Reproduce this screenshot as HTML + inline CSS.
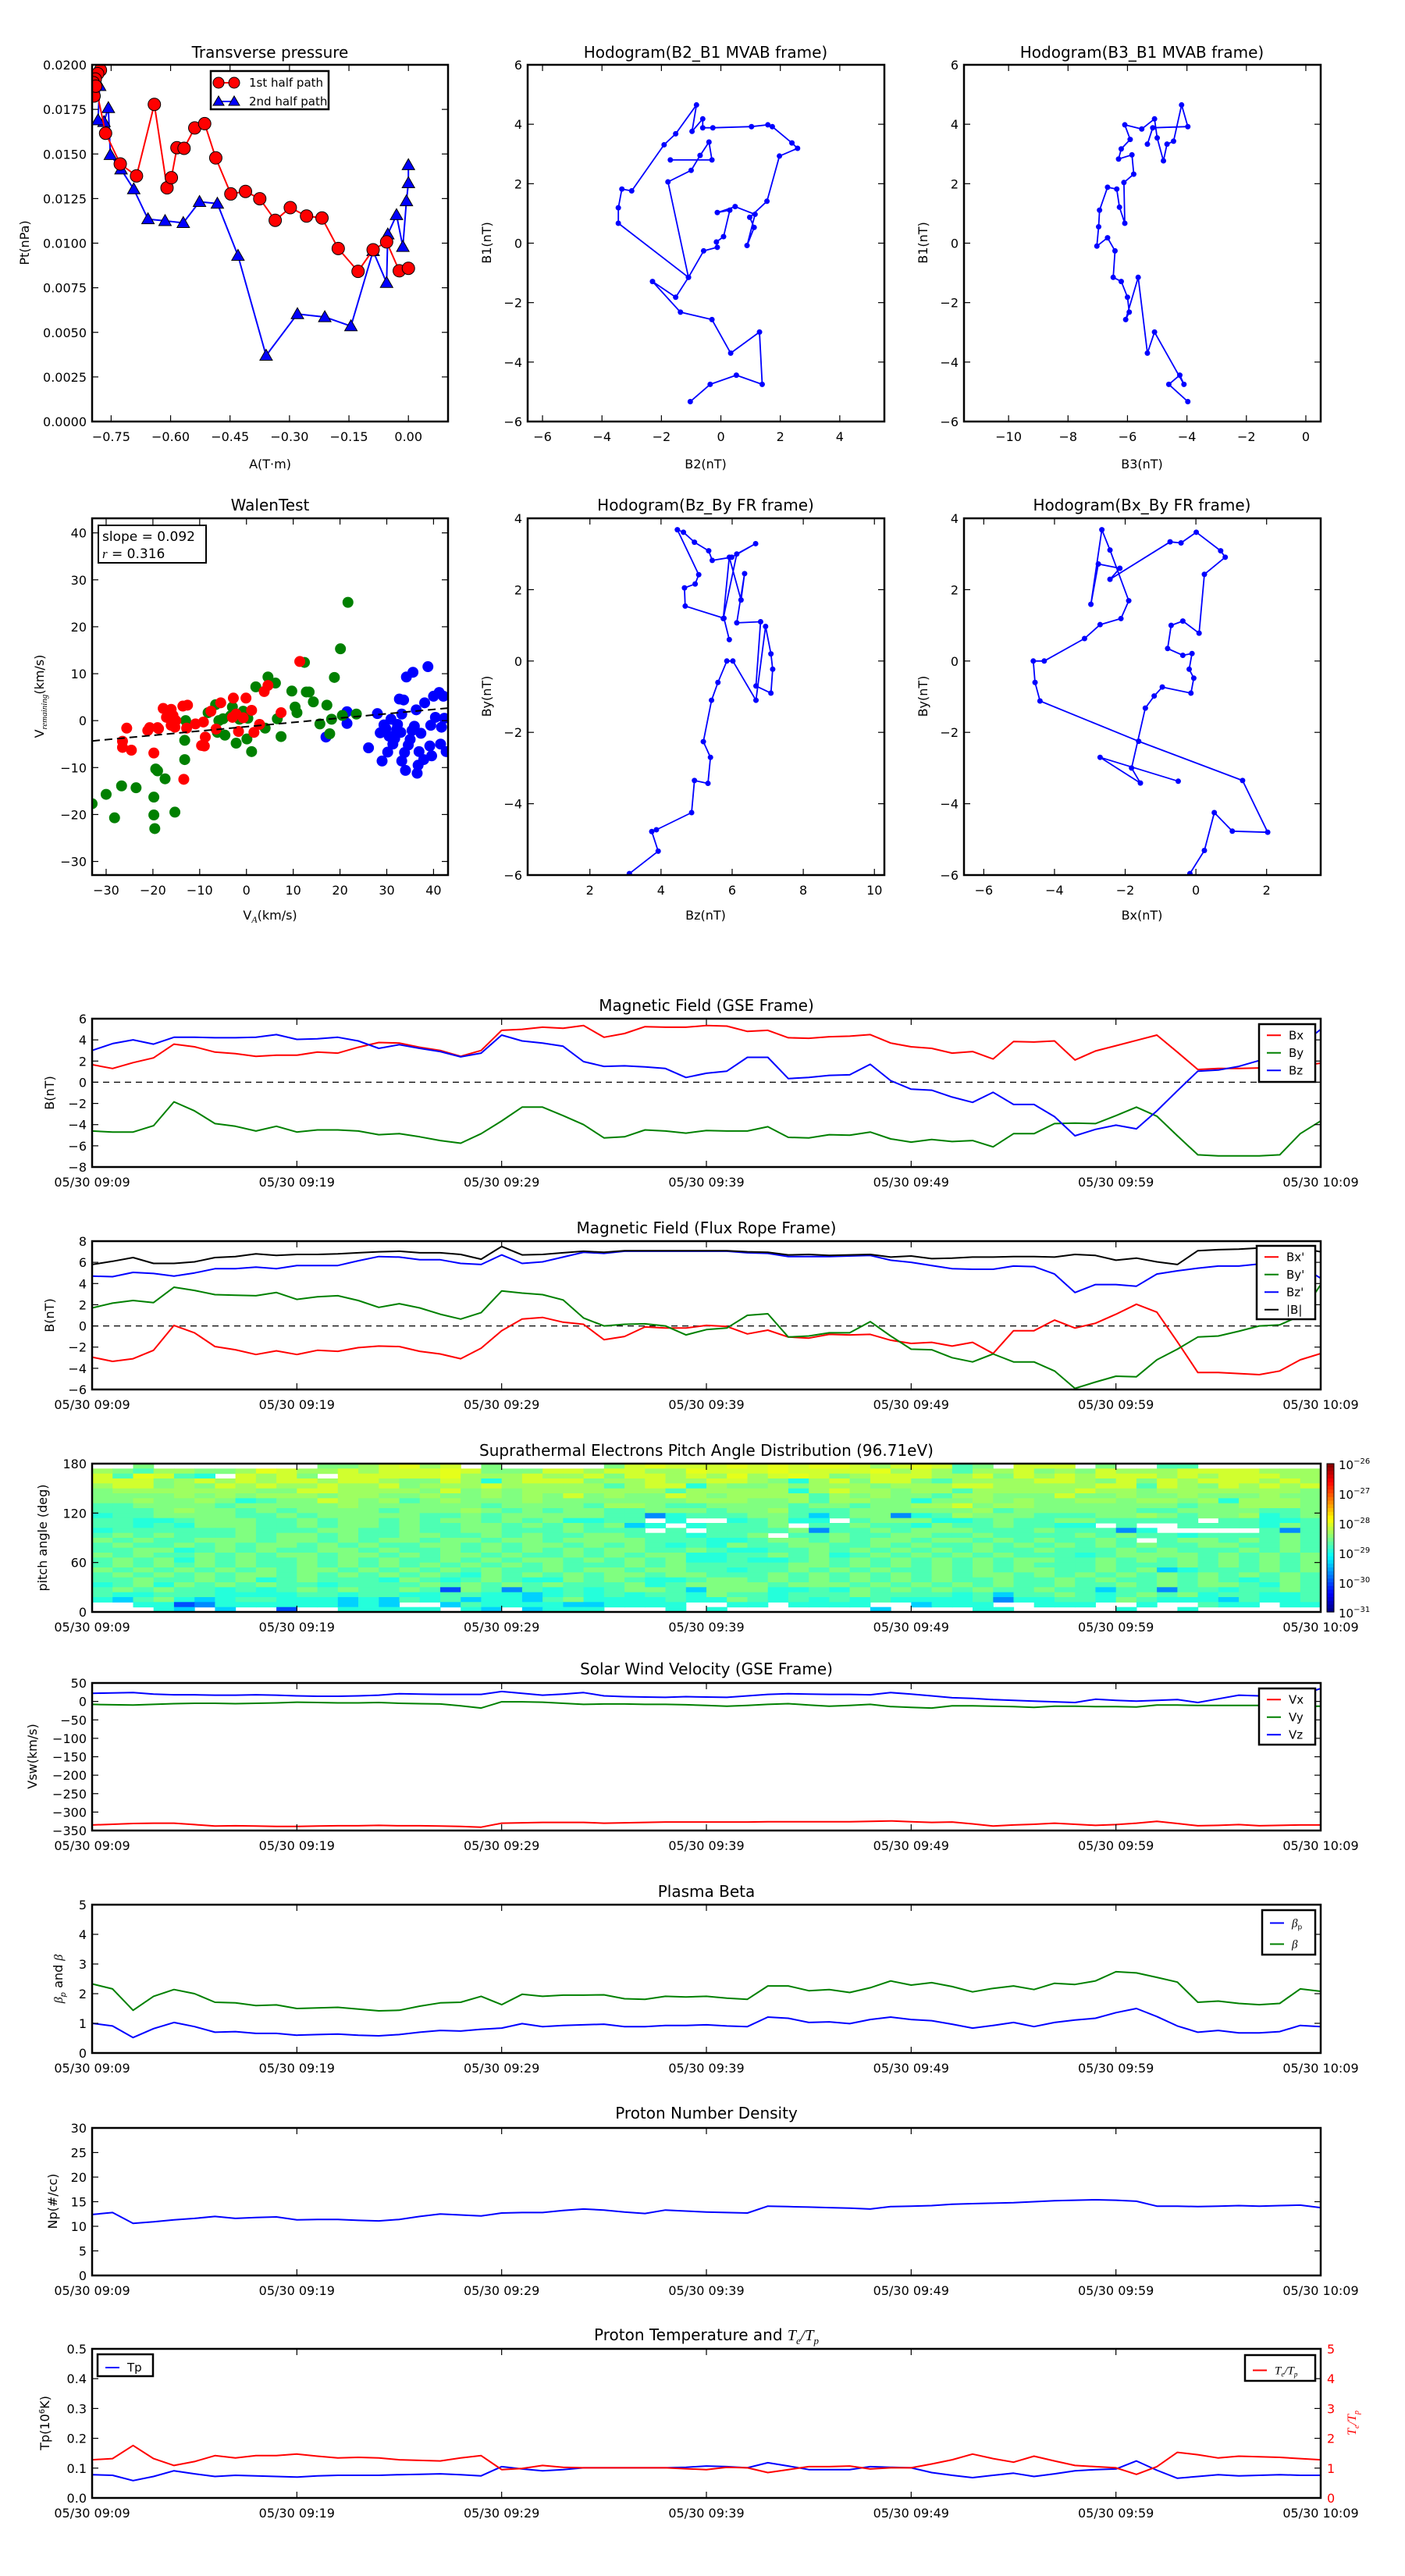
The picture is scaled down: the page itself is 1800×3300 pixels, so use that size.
<!DOCTYPE html>
<html><head><meta charset="utf-8"><title>Flux rope analysis figure</title>
<style>
html,body{margin:0;padding:0;background:#fff;}
svg{display:block;}
text{font-family:"DejaVu Sans","Liberation Sans",sans-serif;fill:#000;}
.t{font-size:20px;text-anchor:middle;}
.tk{font-size:16px;}
.lab{font-size:16px;text-anchor:middle;}
.lg{font-size:15px;}
</style></head>
<body>
<svg id="fig" xmlns="http://www.w3.org/2000/svg" width="1800" height="3300" viewBox="0 0 1800 3300">
<rect x="0" y="0" width="1800" height="3300" fill="#fff"/>
<text class="t" x="346" y="74">Transverse pressure</text>
<text class="t" x="904" y="74">Hodogram(B2_B1 MVAB frame)</text>
<text class="t" x="1463" y="74">Hodogram(B3_B1 MVAB frame)</text>
<text class="t" x="346" y="654">WalenTest</text>
<text class="t" x="904" y="654">Hodogram(Bz_By FR frame)</text>
<text class="t" x="1463" y="654">Hodogram(Bx_By FR frame)</text>
<text class="t" x="905" y="1295">Magnetic Field (GSE Frame)</text>
<text class="t" x="905" y="1580">Magnetic Field (Flux Rope Frame)</text>
<text class="t" x="905" y="1865">Suprathermal Electrons Pitch Angle Distribution (96.71eV)</text>
<text class="t" x="905" y="2145">Solar Wind Velocity (GSE Frame)</text>
<text class="t" x="905" y="2430">Plasma Beta</text>
<text class="t" x="905" y="2714">Proton Number Density</text>
<text class="t" x="905" y="2998">Proton Temperature and <tspan font-family="Liberation Serif" font-style="italic">T</tspan><tspan font-family="Liberation Serif" font-style="italic" font-size="13" dy="5">e</tspan><tspan font-family="Liberation Serif" font-style="italic" dy="-5">/T</tspan><tspan font-family="Liberation Serif" font-style="italic" font-size="13" dy="5">p</tspan></text>
<text class="lab" x="346" y="600">A(T·m)</text>
<text class="lab" x="904" y="600">B2(nT)</text>
<text class="lab" x="1463" y="600">B3(nT)</text>
<text class="lab" x="346" y="1178">V<tspan font-family="Liberation Serif" font-style="italic" font-size="12" dy="4">A</tspan><tspan dy="-4">(km/s)</tspan></text>
<text class="lab" x="904" y="1178">Bz(nT)</text>
<text class="lab" x="1463" y="1178">Bx(nT)</text>
<text class="lab" transform="translate(37,311) rotate(-90)">Pt(nPa)</text>
<text class="lab" transform="translate(629,311) rotate(-90)">B1(nT)</text>
<text class="lab" transform="translate(1188,311) rotate(-90)">B1(nT)</text>
<text class="lab" transform="translate(56,892) rotate(-90)">V<tspan font-family="Liberation Serif" font-style="italic" font-size="11" dy="4">remaining</tspan><tspan dy="-4">(km/s)</tspan></text>
<text class="lab" transform="translate(629,892) rotate(-90)">By(nT)</text>
<text class="lab" transform="translate(1188,892) rotate(-90)">By(nT)</text>
<text class="lab" transform="translate(69,1400) rotate(-90)">B(nT)</text>
<text class="lab" transform="translate(69,1685) rotate(-90)">B(nT)</text>
<text class="lab" transform="translate(60,1970) rotate(-90)">pitch angle (deg)</text>
<text class="lab" transform="translate(47,2250) rotate(-90)">Vsw(km/s)</text>
<text class="lab" transform="translate(80,2535) rotate(-90)"><tspan font-family="Liberation Serif" font-style="italic">β</tspan><tspan font-size="10" dy="4" font-style="italic">p</tspan><tspan dy="-4"> and </tspan><tspan font-family="Liberation Serif" font-style="italic">β</tspan></text>
<text class="lab" transform="translate(73,2820) rotate(-90)">Np(#/cc)</text>
<text class="lab" transform="translate(63,3104) rotate(-90)">Tp(10<tspan font-size="10" dy="-6">6</tspan><tspan dy="6">K)</tspan></text>
<text class="lab" transform="translate(1737,3104) rotate(-90)" style="fill:#f00"><tspan font-family="Liberation Serif" font-style="italic" fill="#f00">T</tspan><tspan font-family="Liberation Serif" font-style="italic" font-size="10" dy="4" fill="#f00">e</tspan><tspan font-family="Liberation Serif" font-style="italic" dy="-4" fill="#f00">/T</tspan><tspan font-family="Liberation Serif" font-style="italic" font-size="10" dy="4" fill="#f00">p</tspan></text>
<g id="plots"></g>
</svg>
<script>
const tpRedA=[-0.777,-0.784,-0.79,-0.795,-0.793,-0.789,-0.764,-0.727,-0.686,-0.641,-0.609,-0.598,-0.584,-0.566,-0.539,-0.514,-0.486,-0.448,-0.411,-0.375,-0.336,-0.298,-0.257,-0.218,-0.177,-0.127,-0.089,-0.055,-0.023,0.0];
const tpRedP=[0.0197,0.0195,0.0192,0.0190,0.01825,0.0188,0.01616,0.01444,0.01377,0.01778,0.0131,0.01367,0.01535,0.01532,0.01646,0.0167,0.01478,0.01276,0.0129,0.01249,0.01128,0.01199,0.01152,0.01141,0.0097,0.00842,0.00963,0.01007,0.00845,0.00859];
const tpBlueA=[0.0,0.0,-0.005,-0.014,-0.03,-0.052,-0.055,-0.089,-0.145,-0.211,-0.28,-0.359,-0.43,-0.482,-0.527,-0.568,-0.614,-0.657,-0.693,-0.725,-0.752,-0.757,-0.768,-0.783,-0.779,-0.795];
const tpBlueP=[0.01438,0.01337,0.01236,0.0098,0.01158,0.0105,0.00778,0.00956,0.00535,0.00586,0.00603,0.0037,0.0093,0.01222,0.01232,0.01114,0.01125,0.01135,0.01303,0.01414,0.01495,0.01758,0.0168,0.0169,0.01882,0.0183];

const hB2=[-1.03,-0.36,0.52,1.39,1.30,0.33,-0.30,-1.36,-2.30,-1.52,-1.09,-3.45,-3.45,-3.33,-3.0,-1.91,-1.52,-0.82,-0.97,-0.61,-0.61,-0.27,1.03,1.58,1.73,2.39,2.58,1.97,1.55,0.97,1.12,0.88,1.15,0.48,-0.12,0.30,0.09,-0.15,-0.12,-0.58,-1.09,-1.78,-1.0,-0.7,-0.4,-0.3,-1.7];
const hB1=[-5.33,-4.75,-4.44,-4.75,-2.99,-3.70,-2.57,-2.32,-1.29,-1.82,-1.15,0.67,1.19,1.82,1.76,3.31,3.68,4.65,3.76,4.18,3.88,3.88,3.92,3.98,3.92,3.37,3.19,2.93,1.41,0.87,0.53,-0.08,0.97,1.23,1.03,1.11,0.22,0.04,-0.14,-0.26,-1.15,2.06,2.45,2.95,3.4,2.8,2.8];
const hB3=[-3.97,-4.61,-4.24,-4.1,-5.09,-5.33,-5.64,-6.06,-5.94,-6.0,-6.21,-6.48,-6.42,-6.67,-7.03,-6.97,-6.94,-6.67,-6.36,-6.27,-6.09,-6.12,-5.79,-5.85,-6.30,-6.21,-5.91,-6.09,-5.52,-5.09,-5.0,-4.79,-4.67,-4.45,-4.18,-3.97,-5.15,-5.33];
const hB1b=[-5.33,-4.75,-4.44,-4.75,-2.99,-3.70,-1.15,-2.57,-2.32,-1.82,-1.29,-1.15,-0.26,0.18,-0.10,0.55,1.11,1.88,1.82,1.21,0.67,2.04,2.32,2.97,2.83,3.17,3.49,3.98,3.84,4.18,3.54,2.77,3.33,3.43,4.65,3.92,3.88,3.33];
const hBz=[3.11,3.92,3.74,3.87,4.86,4.94,5.32,5.39,5.19,5.42,5.6,5.85,6.02,6.67,6.94,7.09,7.14,7.09,6.67,6.80,6.13,6.35,6.25,5.92,5.75,6.13,6.66,5.99,5.44,5.34,4.94,4.63,4.46,5.06,4.96,4.66,4.68,5.77,5.92];
const hBy=[-5.96,-5.33,-4.78,-4.73,-4.25,-3.35,-3.43,-2.70,-2.26,-1.10,-0.6,0.0,0.0,-1.1,0.97,0.2,-0.23,-0.9,-0.7,1.1,1.07,2.45,1.71,2.91,1.19,3.0,3.29,2.91,2.82,3.09,3.33,3.61,3.68,2.42,2.16,2.05,1.54,1.20,0.6];
const hBx=[-0.17,0.24,0.52,1.03,2.03,1.32,-1.62,-4.41,-4.55,-4.60,-4.29,-3.15,-2.71,-2.12,-1.9,-2.43,-2.66,-2.97,-2.76,-2.15,-2.43,-0.73,-0.42,0.01,0.7,0.83,0.24,0.09,-0.37,-0.7,-0.8,-0.37,-0.11,-0.19,-0.06,-0.14,-0.95,-1.18,-1.43,-1.82,-1.57,-2.71,-0.5];
const hBy2=[-5.96,-5.31,-4.25,-4.77,-4.8,-3.35,-2.25,-1.12,-0.6,0.0,0.0,0.63,1.02,1.19,1.69,3.11,3.68,1.59,2.72,2.6,2.29,3.34,3.31,3.61,3.09,2.91,2.43,0.78,1.12,1.0,0.35,0.16,0.21,-0.23,-0.48,-0.9,-0.73,-0.98,-1.32,-3.0,-3.42,-2.70,-3.37];

const wRedX=[-26.5,-26.5,-25.6,-24.6,-21.1,-20.7,-19.8,-18.8,-17.8,-17.1,-16.1,-15.7,-15.3,-15.1,-13.6,-12.6,-13.4,-12.8,-10.9,-9.2,-9.6,-8.8,-7.6,-6.5,-5.5,-2.8,-2.2,-0.7,-0.1,1.1,2.8,3.8,4.6,1.6,7.4,11.4,-1.7,-3.0,-9.0,-16.1,-19.0];
const wRedY=[-5.7,-4.4,-1.6,-6.3,-2.1,-1.5,-6.9,-1.7,2.6,0.7,2.4,1.1,-1.4,0.0,3.1,3.3,-12.5,-1.6,-0.7,-0.3,-5.3,-3.5,2.0,-1.8,3.8,4.8,1.4,0.6,4.8,2.2,-0.8,6.2,7.5,-2.5,1.7,12.6,-2.3,0.7,-5.4,-1.0,-1.5];
const wGreenX=[-33,-30,-28.2,-26.7,-23.6,-19.8,-19.6,-19.8,-19.4,-19.0,-17.4,-15.3,-13.2,-13.2,-13.0,-8.2,-6.6,-5.9,-6.2,-5.0,-4.6,-3.4,-2.2,-1.5,-0.7,0.1,1.1,0.3,2.0,4.6,4.0,6.2,6.6,7.4,9.7,10.4,10.8,12.4,12.8,13.4,14.3,15.7,17.2,17.8,18.2,18.8,20.1,21.7,20.5,23.5,-3.0];
const wGreenY=[-17.7,-15.7,-20.7,-13.9,-14.3,-20.1,-23.0,-16.3,-10.3,-10.7,-12.4,-19.5,-8.3,-4.2,0.0,1.7,3.4,0.0,-2.5,0.4,-3.1,1.0,-4.8,0.3,2.0,-3.9,-6.6,0.5,7.2,9.3,-1.6,8.0,0.4,-3.4,6.3,2.9,1.7,12.4,6.1,6.1,4.0,-0.7,3.3,-2.8,0.3,9.2,15.3,25.2,1.1,1.4,2.9];
const wBlueX=[17.0,21.5,21.5,26.1,28.0,28.6,29.0,29.4,29.8,30.2,30.5,30.9,31.3,31.7,32.3,32.7,33.0,33.2,33.6,33.8,34.0,34.2,34.6,35.0,35.6,35.9,36.3,36.5,36.7,36.9,37.3,38.1,38.8,39.2,39.4,39.6,40.0,40.4,41.2,41.5,41.7,42.1,42.3,42.7,32.1,33.2,35.4,37.9];
const wBlueY=[-3.5,1.9,-0.6,-5.8,1.5,-2.6,-8.6,-0.9,-1.7,-6.7,-3.3,0.3,-5.0,-3.8,-0.8,4.6,-2.5,-8.6,4.4,-6.8,-10.6,9.3,-5.2,-4.0,10.3,-1.2,2.3,-11.2,-9.5,-6.6,-2.7,3.8,11.5,-5.4,-1.0,-7.5,5.2,0.7,6.0,-5.0,-1.4,5.2,0.5,-6.6,-1.9,1.4,-2.1,-8.3];
const walenSlope=0.092, walenIntercept=-1.3;

const timeLabels=["05/30 09:09","05/30 09:19","05/30 09:29","05/30 09:39","05/30 09:49","05/30 09:59","05/30 10:09"];
const gseBx=[1.66,1.3,1.85,2.3,3.6,3.35,2.85,2.7,2.45,2.55,2.55,2.85,2.75,3.3,3.75,3.7,3.3,3.0,2.45,3.0,4.9,5.0,5.2,5.1,5.35,4.25,4.6,5.25,5.2,5.2,5.35,5.3,4.8,4.9,4.2,4.15,4.3,4.35,4.5,3.7,3.35,3.2,2.75,2.9,2.2,3.85,3.8,3.9,2.1,2.95,3.45,3.95,4.45,2.85,1.2,1.3,1.3,1.35,1.4,1.55,1.8];
const gseBy=[-4.6,-4.7,-4.7,-4.1,-1.85,-2.7,-3.9,-4.15,-4.6,-4.15,-4.7,-4.5,-4.5,-4.6,-4.95,-4.85,-5.15,-5.5,-5.75,-4.85,-3.65,-2.35,-2.35,-3.15,-4.0,-5.25,-5.15,-4.5,-4.6,-4.8,-4.55,-4.6,-4.6,-4.2,-5.2,-5.25,-4.95,-5.0,-4.7,-5.35,-5.65,-5.4,-5.6,-5.5,-6.1,-4.85,-4.85,-3.9,-3.85,-3.9,-3.15,-2.35,-3.2,-5.05,-6.85,-6.95,-6.95,-6.95,-6.85,-4.85,-3.65];
const gseBz=[3.0,3.65,4.0,3.6,4.25,4.25,4.2,4.2,4.25,4.5,4.05,4.1,4.25,3.9,3.2,3.55,3.2,2.9,2.4,2.75,4.45,3.9,3.7,3.4,1.95,1.5,1.55,1.45,1.3,0.45,0.85,1.05,2.35,2.35,0.35,0.45,0.65,0.7,1.7,0.15,-0.65,-0.75,-1.4,-1.9,-0.95,-2.1,-2.1,-3.25,-5.05,-4.45,-4.05,-4.4,-2.7,-0.8,1.05,1.15,1.5,2.05,2.7,3.45,5.0];
const frBx=[-2.95,-3.35,-3.1,-2.3,0.05,-0.65,-1.95,-2.25,-2.7,-2.35,-2.7,-2.3,-2.4,-2.05,-1.9,-1.95,-2.4,-2.65,-3.1,-2.1,-0.45,0.65,0.8,0.35,0.15,-1.3,-1.0,-0.1,-0.2,-0.2,0.05,-0.05,-0.75,-0.4,-1.05,-1.15,-0.8,-0.85,-0.8,-1.35,-1.65,-1.55,-1.9,-1.55,-2.6,-0.45,-0.45,0.55,-0.2,0.25,1.1,2.05,1.3,-1.5,-4.4,-4.4,-4.5,-4.6,-4.25,-3.2,-2.6];
const frBy=[1.7,2.15,2.4,2.2,3.65,3.35,2.95,2.9,2.85,3.15,2.5,2.75,2.85,2.4,1.75,2.1,1.7,1.1,0.65,1.25,3.3,3.1,2.95,2.45,0.75,0.0,0.15,0.2,0.0,-0.85,-0.35,-0.2,1.0,1.15,-1.05,-0.95,-0.65,-0.65,0.4,-0.95,-2.2,-2.25,-3.0,-3.4,-2.65,-3.4,-3.4,-4.25,-5.9,-5.3,-4.75,-4.8,-3.2,-2.2,-1.05,-0.95,-0.5,0.0,0.1,0.95,3.9];
const frBz=[4.7,4.65,5.05,4.95,4.7,5.0,5.4,5.4,5.55,5.4,5.7,5.7,5.7,6.15,6.55,6.5,6.25,6.25,5.9,5.8,6.7,5.9,6.05,6.5,6.95,6.85,7.05,7.05,7.05,7.05,7.05,7.05,6.9,6.85,6.55,6.55,6.55,6.6,6.65,6.2,6.0,5.7,5.4,5.35,5.35,5.65,5.6,4.9,3.15,3.9,3.9,3.75,4.9,5.2,5.45,5.65,5.65,5.85,5.9,5.7,4.5];
const frBt=[5.8,6.1,6.45,5.9,5.9,6.05,6.45,6.55,6.8,6.65,6.75,6.75,6.8,6.9,7.0,7.05,6.9,6.9,6.75,6.3,7.5,6.7,6.75,6.9,7.05,6.95,7.1,7.1,7.1,7.1,7.1,7.1,7.0,6.95,6.7,6.75,6.65,6.7,6.75,6.5,6.6,6.35,6.4,6.5,6.5,6.55,6.55,6.5,6.75,6.65,6.2,6.4,6.05,5.8,7.1,7.2,7.25,7.35,7.4,7.35,7.0];
const vx=[-335,-333,-331,-330,-330,-334,-338,-337,-338,-339,-339,-338,-337,-337,-336,-337,-337,-338,-339,-341,-330,-329,-328,-328,-328,-330,-329,-328,-327,-327,-327,-327,-327,-326,-326,-326,-326,-326,-325,-324,-326,-328,-327,-332,-338,-335,-333,-330,-333,-336,-334,-330,-325,-331,-337,-336,-334,-337,-336,-335,-335];
const vy=[-8,-9,-10,-8,-6,-5,-5,-6,-5,-4,-2,-3,-4,-4,-3,-5,-6,-7,-12,-18,-1,-1,-2,-5,-8,-7,-7,-8,-8,-9,-11,-13,-11,-8,-6,-10,-13,-11,-8,-14,-16,-18,-12,-12,-13,-14,-16,-13,-13,-14,-14,-15,-10,-10,-11,-11,-11,-11,-12,-13,-13];
const vz=[22,23,24,20,18,18,17,17,18,17,15,14,14,15,17,21,20,19,19,19,27,22,17,20,24,15,13,12,11,13,12,11,15,19,21,20,19,19,18,24,20,15,10,8,5,3,1,-1,-3,6,3,1,3,5,-3,7,17,15,14,17,35];
const betaP=[1.0,0.91,0.52,0.82,1.03,0.89,0.70,0.72,0.66,0.66,0.60,0.62,0.64,0.60,0.58,0.62,0.70,0.76,0.74,0.80,0.84,0.99,0.89,0.93,0.95,0.97,0.89,0.89,0.93,0.93,0.95,0.91,0.89,1.21,1.17,1.03,1.05,0.99,1.13,1.21,1.13,1.09,0.97,0.84,0.93,1.03,0.89,1.03,1.11,1.17,1.36,1.50,1.23,0.91,0.70,0.76,0.68,0.68,0.72,0.93,0.89];
const betaT=[2.33,2.16,1.44,1.91,2.14,2.0,1.71,1.69,1.60,1.62,1.50,1.52,1.54,1.48,1.42,1.44,1.58,1.69,1.71,1.91,1.63,1.98,1.91,1.95,1.95,1.96,1.83,1.81,1.91,1.89,1.91,1.85,1.81,2.26,2.26,2.10,2.14,2.04,2.20,2.43,2.29,2.37,2.24,2.06,2.18,2.26,2.14,2.35,2.31,2.43,2.74,2.70,2.55,2.39,1.71,1.75,1.67,1.63,1.67,2.16,2.08];
const np=[12.4,12.8,10.6,10.9,11.3,11.6,12.0,11.6,11.8,11.9,11.3,11.4,11.4,11.2,11.1,11.4,12.0,12.5,12.3,12.1,12.7,12.8,12.8,13.2,13.5,13.3,12.9,12.6,13.3,13.1,12.9,12.8,12.7,14.1,14.0,13.9,13.8,13.7,13.5,14.0,14.1,14.2,14.5,14.6,14.7,14.8,15.0,15.2,15.3,15.4,15.3,15.1,14.1,14.1,14.0,14.1,14.2,14.1,14.2,14.3,13.8];
const tp=[0.078,0.076,0.058,0.072,0.091,0.081,0.072,0.076,0.074,0.072,0.070,0.074,0.076,0.076,0.076,0.078,0.079,0.081,0.078,0.074,0.105,0.097,0.091,0.095,0.101,0.101,0.101,0.101,0.101,0.103,0.107,0.105,0.101,0.118,0.107,0.095,0.095,0.095,0.105,0.103,0.101,0.085,0.076,0.068,0.076,0.083,0.072,0.081,0.091,0.095,0.097,0.124,0.093,0.066,0.072,0.078,0.074,0.076,0.078,0.076,0.076];
const teTp=[1.28,1.32,1.76,1.32,1.09,1.22,1.42,1.34,1.42,1.42,1.47,1.40,1.34,1.36,1.34,1.28,1.26,1.24,1.34,1.42,0.95,0.99,1.09,1.03,1.01,1.01,1.01,1.01,1.01,0.98,0.95,1.03,1.01,0.85,0.95,1.05,1.05,1.07,0.97,1.01,1.01,1.14,1.28,1.47,1.32,1.20,1.40,1.24,1.09,1.05,1.01,0.79,1.05,1.53,1.45,1.34,1.40,1.38,1.36,1.32,1.28];
const padLevels=[null,-30.0,-29.7,-29.35,-28.95,-28.75,-28.5,-28.35,-28.1,-28.0];
const padRows=[
"..6........6678978.6.....6898889898998789856.888.6..55......",
"765776679877878889866688788779888988889787577867687778888777",
"859854.8786.888889777877868878797898678887786878788878788877",
"888678787887887668747888677877887647868865777788768687888787",
"788676878778778677787777757884766767776777887777788587687878",
"677777776688777768676777777757777747877677577777877677777776",
"666676767776776676676768676687677775767665776668667667666766",
"667667645668767567666766666667776675776646676766776776747776",
"556666566666766666656666577655666656656677867766666665667776",
"555676656566665666765656655666566755566666675666666556666556",
"455666655656666655656666655245556653566245766655566765667456",
"554456665565665656656564455.4..45644.56664456556655555.55445",
"5545466655656656556656565634.45556.55655465565544.5..5555465",
"455555565556655655665556555.5.5555625565666555655524.....525",
"565655565665655665565655665554556.55655665565555656554555565",
"656556665665656656656656666555445665656656656565565.56656565",
"565565656656565566565665656545465566556565565656565655665565",
"556645656556656556565656566556544556565656565565556565556565",
"6565565656656656566565565656644556564565656565554566665656565",
"565646565565656556565665656564454456565656565665565656565656",
"565656565565656565656565556565555566565656565655565556565656",
"656565656566565656565565665665545565656556565665565634555656",
"565656566565656565465656566566555656565656566565656565656565",
"556556564565554654565446565445665656565656556556565565654565",
"456465656554555565656565556456666566656565656556556565665465",
"565655454565655651652545456653666445465656565565535525545565",
"544555444455455445544345454554655455565555453556545656455445",
"435643455444343545344356444454465454545444452445546544435445",
"..4412444444343..354444334444..44.4444..3444..444..4..544.444",
"...43.3..1..44444.43.3444...4.4.......3....44.....4..4......"];

const NS='http://www.w3.org/2000/svg';
const root=document.getElementById('plots');
let clipN=0;
function mk(tag,attrs,parent){const e=document.createElementNS(NS,tag);for(const k in attrs)e.setAttribute(k,attrs[k]);parent.appendChild(e);return e;}
function fmt(v,d){const s=Math.abs(v).toFixed(d);return (v<0?'\u2212':'')+s;}
function panel(o){
  const g=mk('g',{},root);
  
  
  const sx=v=>o.x0+(v-o.xd[0])/(o.xd[1]-o.xd[0])*o.w;
  const sy=v=>o.y0+o.h-(v-o.yd[0])/(o.yd[1]-o.yd[0])*o.h;
  const id='c'+(clipN++);
  const cp=mk('clipPath',{id:id},g);
  mk('rect',{x:o.x0,y:o.y0,width:o.w,height:o.h},cp);
  const data=mk('g',{'clip-path':'url(#'+id+')'},g);
  
  
  const ax=mk('g',{},g);
  
  
  o.xticks.forEach((v,i)=>{
    const x=sx(v);
    const t1=mk('line',{x1:x,x2:x,y1:o.y0+o.h,y2:o.y0+o.h-8,stroke:'#000','stroke-width':1.2},ax);
    
    
    const t2=mk('line',{x1:x,x2:x,y1:o.y0,y2:o.y0+8,stroke:'#000','stroke-width':1.2},ax);
    
    
    const lb=mk('text',{x:x,y:o.y0+o.h+25,class:'tk','text-anchor':'middle'},ax);
    lb.textContent=o.xlabels[i];
    
    
  });
  o.yticks.forEach((v,i)=>{
    const y=sy(v);
    const t1=mk('line',{x1:o.x0,x2:o.x0+8,y1:y,y2:y,stroke:'#000','stroke-width':1.2},ax);
    
    
    if(!o.noRightTicks){
      const t2=mk('line',{x1:o.x0+o.w,x2:o.x0+o.w-8,y1:y,y2:y,stroke:'#000','stroke-width':1.2},ax);
      
      
    }
    const lb=mk('text',{x:o.x0-7,y:y+6,class:'tk','text-anchor':'end'},ax);
    lb.textContent=o.ylabels[i];
    
    
  });
  const fr=mk('rect',{x:o.x0,y:o.y0,width:o.w,height:o.h,fill:'none',stroke:'#000','stroke-width':2.5},g);
  
  
  return {sx,sy,data,g};
}
function line(P,xs,ys,color,name,w){
  const pts=xs.map((x,i)=>P.sx(x).toFixed(1)+','+P.sy(ys[i]).toFixed(1)).join(' ');
  const pl=mk('polyline',{points:pts,fill:'none',stroke:color,'stroke-width':w||2,'stroke-linejoin':'round'},P.data);
  
  
  return pl;
}
function dots(P,xs,ys,color,r,name,stroke){
  xs.forEach((x,i)=>{
    const c=mk('circle',{cx:P.sx(x),cy:P.sy(ys[i]),r:r,fill:color,stroke:stroke||'none','stroke-width':1},P.data);
    
    
  });
}
function tris(P,xs,ys,color,s,name){
  xs.forEach((x,i)=>{
    const cx=P.sx(x),cy=P.sy(ys[i]);
    const p=mk('polygon',{points:`${cx},${cy-s} ${cx-s},${cy+s*0.75} ${cx+s},${cy+s*0.75}`,fill:color,stroke:'#000','stroke-width':1},P.data);
    
    
  });
}
function range(a,b,s){const r=[];for(let v=a;v<=b+1e-9;v+=s)r.push(+v.toFixed(6));return r;}
function legend(x,y,w,h,entries,rowH,off){
  const g=mk('g',{},root);
  
  
  const b=mk('rect',{x:x,y:y,width:w,height:h,fill:'#fff',stroke:'#000','stroke-width':2.5},g);
  
  
  entries.forEach((e,i)=>{
    const yy=y+rowH*(i+0.5)+3;
    const l=mk('line',{x1:x+10,x2:x+10+e.len,y1:yy,y2:yy,stroke:e.color,'stroke-width':2},g);
    
    
    if(e.marker==='o'){[x+10,x+10+e.len].forEach(cx=>{const c=mk('circle',{cx:cx,cy:yy,r:7,fill:e.color,stroke:'#000','stroke-width':1},g);});}
    if(e.marker==='^'){[x+10,x+10+e.len].forEach(cx=>{const p=mk('polygon',{points:`${cx},${yy-7} ${cx-7},${yy+5} ${cx+7},${yy+5}`,fill:e.color,stroke:'#000','stroke-width':1},g);});}
    const t=mk('text',{x:x+e.len+(off||20),y:yy+5,class:'lg'},g);
    t.innerHTML=e.label;
    
    
  });
}

const R1={y0:83,h:457}, R2={y0:664,h:457};
let P=panel({name:'transverse-pressure-panel',x0:118,y0:R1.y0,w:456,h:R1.h,xd:[-0.798,0.1],yd:[0,0.02],
  xticks:range(-0.75,0,0.15),xlabels:range(-0.75,0,0.15).map(v=>fmt(v,2)),
  yticks:range(0,0.02,0.0025),ylabels:range(0,0.02,0.0025).map(v=>v.toFixed(4))});
line(P,tpBlueA,tpBlueP,'#00f','second-half-path-line');
tris(P,tpBlueA,tpBlueP,'#00f',8,'second-half-path-marker');
line(P,tpRedA,tpRedP,'#f00','first-half-path-line');
dots(P,tpRedA,tpRedP,'#f00',8,'first-half-path-marker','#000');
legend(270,91,151,49,[{color:'#f00',label:'1st half path',marker:'o',len:20},{color:'#00f',label:'2nd half path',marker:'^',len:20}],24,29);

P=panel({name:'hodogram-b2-b1-panel',x0:676,y0:R1.y0,w:457,h:R1.h,xd:[-6.5,5.5],yd:[-6,6],
  xticks:range(-6,4,2),xlabels:range(-6,4,2).map(v=>fmt(v,0)),yticks:range(-6,6,2),ylabels:range(-6,6,2).map(v=>fmt(v,0))});
line(P,hB2,hB1,'#00f','hodogram-b2-b1-path',1.8);
dots(P,hB2,hB1,'#00f',3.5,'hodogram-b2-b1-point');

P=panel({name:'hodogram-b3-b1-panel',x0:1235,y0:R1.y0,w:457,h:R1.h,xd:[-11.5,0.5],yd:[-6,6],
  xticks:range(-10,0,2),xlabels:range(-10,0,2).map(v=>fmt(v,0)),yticks:range(-6,6,2),ylabels:range(-6,6,2).map(v=>fmt(v,0))});
line(P,hB3,hB1b,'#00f','hodogram-b3-b1-path',1.8);
dots(P,hB3,hB1b,'#00f',3.5,'hodogram-b3-b1-point');

P=panel({name:'walen-test-panel',x0:118,y0:R2.y0,w:456,h:R2.h,xd:[-33,43.1],yd:[-32.9,43.1],
  xticks:range(-30,40,10),xlabels:range(-30,40,10).map(v=>fmt(v,0)),yticks:range(-30,40,10),ylabels:range(-30,40,10).map(v=>fmt(v,0))});
dots(P,wBlueX,wBlueY,'#00f',7,'walen-point-blue');
dots(P,wGreenX,wGreenY,'#008000',7,'walen-point-green');
dots(P,wRedX,wRedY,'#f00',7,'walen-point-red');
const fitX=[-33,43.1];
const fl=line(P,fitX,fitX.map(x=>walenSlope*x+walenIntercept),'#000','walen-fit-line',2);
fl.setAttribute('stroke-dasharray','10,6');
{
 const b=mk('rect',{x:126,y:673,width:138,height:48,fill:'#fff',stroke:'#000','stroke-width':2},root);
 
 
 const t1=mk('text',{x:131,y:693,'font-size':17},root);
 t1.textContent='slope = '+walenSlope.toFixed(3);
 
 
 const t2=mk('text',{x:131,y:715,'font-size':17},root);
 t2.innerHTML='<tspan font-family="Liberation Serif" font-style="italic">r</tspan> = 0.316';
 
 
}

P=panel({name:'hodogram-bz-by-panel',x0:676,y0:R2.y0,w:457,h:R2.h,xd:[0.25,10.28],yd:[-6,4],
  xticks:range(2,10,2),xlabels:range(2,10,2).map(v=>fmt(v,0)),yticks:range(-6,4,2),ylabels:range(-6,4,2).map(v=>fmt(v,0))});
line(P,hBz,hBy,'#00f','hodogram-bz-by-path',1.8);
dots(P,hBz,hBy,'#00f',3.5,'hodogram-bz-by-point');

P=panel({name:'hodogram-bx-by-panel',x0:1235,y0:R2.y0,w:457,h:R2.h,xd:[-6.56,3.53],yd:[-6,4],
  xticks:range(-6,2,2),xlabels:range(-6,2,2).map(v=>fmt(v,0)),yticks:range(-6,4,2),ylabels:range(-6,4,2).map(v=>fmt(v,0))});
line(P,hBx,hBy2,'#00f','hodogram-bx-by-path',1.8);
dots(P,hBx,hBy2,'#00f',3.5,'hodogram-bx-by-point');

const T=gseBx.map((_,i)=>i);
const tt=[0,10,20,30,40,50,60];
function tpanel(name,y0,h,yd,yt,ylab,extra){
  return panel(Object.assign({name:name,x0:118,y0:y0,w:1574,h:h,xd:[0,60],yd:yd,xticks:tt,xlabels:timeLabels,yticks:yt,ylabels:ylab},extra||{}));
}
function zero(P,name){const z=line(P,[0,60],[0,0],'#000',name,1.3);z.setAttribute('stroke-dasharray','8,6');}

P=tpanel('magnetic-field-gse-panel',1305,190,[-8,6],range(-8,6,2),range(-8,6,2).map(v=>fmt(v,0)));
zero(P,'gse-zero-line');
line(P,T,gseBx,'#f00','series-gse-bx');
line(P,T,gseBy,'#008000','series-gse-by');
line(P,T,gseBz,'#00f','series-gse-bz');
legend(1613,1312,72,74,[{color:'#f00',label:'Bx',len:18},{color:'#008000',label:'By',len:18},{color:'#00f',label:'Bz',len:18}],22.5);

P=tpanel('magnetic-field-fr-panel',1590,190,[-6,8],range(-6,8,2),range(-6,8,2).map(v=>fmt(v,0)));
zero(P,'fr-zero-line');
line(P,T,frBx,'#f00','series-fr-bx');
line(P,T,frBy,'#008000','series-fr-by');
line(P,T,frBz,'#00f','series-fr-bz');
line(P,T,frBt,'#000','series-fr-btotal');
legend(1610,1596,75,94,[{color:'#f00',label:"Bx'",len:18},{color:'#008000',label:"By'",len:18},{color:'#00f',label:"Bz'",len:18},{color:'#000',label:'|B|',len:18}],22.5);

function jet(f){const c=v=>Math.round(255*Math.max(0,Math.min(1,v)));return `rgb(${c(1.5-Math.abs(4*f-3))},${c(1.5-Math.abs(4*f-2))},${c(1.5-Math.abs(4*f-1))})`;}
P=tpanel('pitch-angle-panel',1875,190,[0,180],[0,60,120,180],['0','60','120','180']);
{
 const nC=60;
 padRows.forEach((row,r)=>{
  for(let c=0;c<nC;c++){
   const ch=row[c%row.length];
   if(ch==='.')continue;
   const v=padLevels[+ch];
   const x0=P.sx(c),x1=P.sx(c+1),yTop=P.sy(180-r*6),yBot=P.sy(180-(r+1)*6);
   const cell=mk('rect',{x:x0.toFixed(1),y:yTop.toFixed(1),width:(x1-x0+0.6).toFixed(1),height:(yBot-yTop+0.6).toFixed(1),fill:jet((v+31)/5)},P.data);
   
   
  }
 });
 const cb=mk('g',{},root);
 
 
 const N=40;
 for(let i=0;i<N;i++){
  const s=mk('rect',{x:1700,y:(1875+190*i/N).toFixed(1),width:9,height:(190/N+0.6).toFixed(1),fill:jet(1-(i+0.5)/N)},cb);
  
  
 }
 const cbf=mk('rect',{x:1700,y:1875,width:9,height:190,fill:'none',stroke:'#000','stroke-width':1},cb);
 
 
 [-26,-27,-28,-29,-30,-31].forEach((e,i)=>{
  const y=1875+190*i/5;
  const t=mk('text',{x:1715,y:y+7,'font-size':15},cb);
  t.innerHTML='10<tspan font-size="10" dy="-7">'+fmt(e,0)+'</tspan>';
  
  
 });
}

P=tpanel('solar-wind-velocity-panel',2156,189,[-350,50],range(-350,50,50),range(-350,50,50).map(v=>fmt(v,0)));
line(P,T,vx,'#f00','series-vx');
line(P,T,vy,'#008000','series-vy');
line(P,T,vz,'#00f','series-vz');
legend(1613,2163,72,72,[{color:'#f00',label:'Vx',len:18},{color:'#008000',label:'Vy',len:18},{color:'#00f',label:'Vz',len:18}],22.5);

P=tpanel('plasma-beta-panel',2440,190,[0,5],range(0,5,1),range(0,5,1).map(v=>fmt(v,0)));
line(P,T,betaP,'#00f','series-beta-p');
line(P,T,betaT,'#008000','series-beta');
legend(1617,2447,68,57,[{color:'#00f',label:'<tspan font-family="Liberation Serif" font-style="italic">β</tspan><tspan font-size="9" dy="3">p</tspan>',len:18},{color:'#008000',label:'<tspan font-family="Liberation Serif" font-style="italic">β</tspan>',len:18}],27);

P=tpanel('proton-density-panel',2726,189,[0,30],range(0,30,5),range(0,30,5).map(v=>fmt(v,0)));
line(P,T,np,'#00f','series-np');

P=tpanel('proton-temperature-panel',3009,191,[0,0.5],range(0,0.5,0.1),range(0,0.5,0.1).map(v=>v.toFixed(1)),{noRightTicks:true});
line(P,T,tp,'#00f','series-tp');
{
 const PR={sx:P.sx,sy:v=>3009+191-v/5*191,data:P.data};
 line(PR,T,teTp,'#f00','series-te-tp');
 [0,1,2,3,4,5].forEach(v=>{
  const y=PR.sy(v);
  const tk=mk('line',{x1:1692,x2:1684,y1:y,y2:y,stroke:'#000','stroke-width':1.2},root);
  
  
  const lb=mk('text',{x:1700,y:y+6,class:'tk',fill:'#f00',style:'fill:#f00'},root);
  lb.textContent=String(v);
  
  
 });
}
legend(125,3016,71,28,[{color:'#00f',label:'Tp',len:18}],28);
legend(1595,3017,90,33,[{color:'#f00',label:'<tspan font-family="Liberation Serif" font-style="italic">T</tspan><tspan font-family="Liberation Serif" font-style="italic" font-size="9" dy="3">e</tspan><tspan font-family="Liberation Serif" font-style="italic" dy="-3">/T</tspan><tspan font-family="Liberation Serif" font-style="italic" font-size="9" dy="3">p</tspan>',len:18}],33);
</script>
</body></html>
